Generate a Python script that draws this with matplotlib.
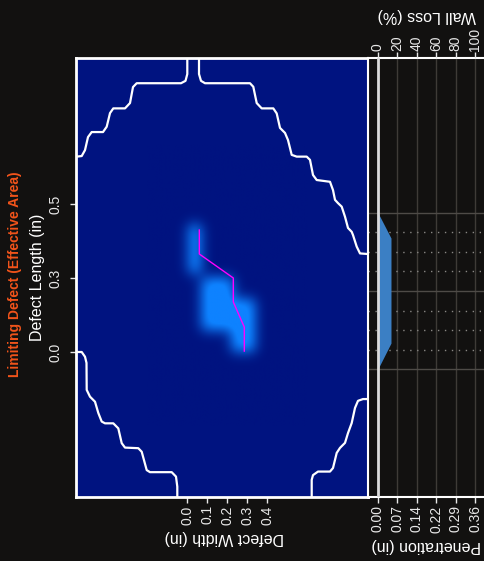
import matplotlib
matplotlib.use("Agg")
import matplotlib.pyplot as plt
import numpy as np
from matplotlib.colors import LinearSegmentedColormap

plt.rcParams["font.family"] = ["Liberation Sans", "DejaVu Sans"]

W, H = 485, 561
BG = "#121110"

# corroded patches (defect width / defect length, inches)
patch_w0 = [0.010, 0.072, 0.222]
patch_w1 = [0.070, 0.228, 0.335]
patch_l0 = [0.265, 0.075, 0.003]
patch_l1 = [0.430, 0.250, 0.180]
patch_depth = [1.0, 1.0, 1.0]

# limiting defect path
path_w = [0.06, 0.06, 0.23, 0.23, 0.285, 0.285]
path_l = [0.412, 0.331, 0.25, 0.169, 0.084, 0.003]

# acceptance envelope, left and right branches
left_w = [0.0, 0.0, -0.009, -0.0315, -0.253, -0.2715, -0.2865, -0.3115, -0.370,
          -0.3865, -0.403, -0.4215, -0.478, -0.4965, -0.5115, -0.528, -0.553,
          -0.64, -0.64, -0.528, -0.5115, -0.504, -0.503, -0.4865, -0.4615,
          -0.445, -0.428, -0.4115, -0.370, -0.345, -0.328, -0.3115, -0.245,
          -0.228, -0.203, -0.1865, -0.078, -0.0565, -0.050, -0.050]
left_l = [1.02, 0.939, 0.916, 0.908, 0.908, 0.895, 0.841, 0.823, 0.823,
          0.807, 0.761, 0.743, 0.743, 0.726, 0.682, 0.662, 0.660,
          0.659, 0.0, 0.0, -0.016, -0.037, -0.128, -0.151, -0.168,
          -0.206, -0.235, -0.241, -0.241, -0.258, -0.308, -0.323, -0.325,
          -0.337, -0.399, -0.406, -0.406, -0.421, -0.455, -0.52]
right_w = [0.0585, 0.0585, 0.0685, 0.0885, 0.3135, 0.330, 0.347, 0.372, 0.430,
           0.447, 0.4635, 0.4885, 0.5035, 0.522, 0.547, 0.597, 0.6135, 0.6285,
           0.647, 0.7135, 0.7285, 0.7385, 0.7535, 0.772, 0.7885, 0.8035, 0.822,
           0.8285, 0.847, 0.8635, 0.9035, 0.97, 0.97, 0.8785, 0.8535, 0.8385,
           0.822, 0.8035, 0.7885, 0.7635, 0.747, 0.7285, 0.7135, 0.6535,
           0.6285, 0.622, 0.622]
right_l = [1.02, 0.939, 0.916, 0.908, 0.908, 0.896, 0.841, 0.823, 0.823,
           0.806, 0.757, 0.740, 0.716, 0.666, 0.660, 0.660, 0.649, 0.598,
           0.581, 0.575, 0.547, 0.514, 0.503, 0.491, 0.457, 0.419, 0.406,
           0.395, 0.356, 0.333, 0.331, 0.331, -0.159, -0.159, -0.165, -0.189,
           -0.240, -0.274, -0.307, -0.324, -0.341, -0.392, -0.404, -0.404,
           -0.416, -0.432, -0.52]

# river-bottom profile
grid_len = [0.470, 0.404, 0.338, 0.272, 0.206, 0.140, 0.074, 0.008, -0.058]
grid_solid = [True, False, False, False, True, False, False, False, True]
profile_len = [0.470, 0.385, 0.030, -0.057]
profile_loss = [0, 13.4, 13.4, 0]

length_ticks = [0.0, 0.25, 0.5]
length_labels = ["0.0", "0.3", "0.5"]
width_ticks = [0.0, 0.1, 0.2, 0.3, 0.4]
width_labels = ["0.0", "0.1", "0.2", "0.3", "0.4"]
loss_ticks = [0, 20, 40, 60, 80, 100]
loss_labels = ["0", "20", "40", "60", "80", "100"]
pen_labels = ["0.00", "0.07", "0.14", "0.22", "0.29", "0.36"]


def fx(px):
    return px / W


def fy(py):
    return 1 - py / H


def blur(a, sigma, axis):
    r = int(3 * sigma)
    k = np.exp(-0.5 * (np.arange(-r, r + 1) / sigma) ** 2)
    k /= k.sum()
    return np.apply_along_axis(lambda v: np.convolve(v, k, mode="same"), axis, a)


fig = plt.figure(figsize=(W / 100, H / 100), dpi=100, facecolor=BG)

xlim = (-0.5565, 0.9035)
ylim = (-0.4899, 0.9932)
ax = fig.add_axes([fx(76), fy(497), fx(368) - fx(76), fy(58) - fy(497)])
cmap = LinearSegmentedColormap.from_list("depth", ["#001380", "#0E82FF"])
ax.set_facecolor(cmap(0.0))

# raster of the patches, softened
step = 0.004
gw = np.arange(-0.2, 0.6, step)
gl = np.arange(-0.25, 0.7, step)
img = np.zeros((len(gl), len(gw)))
for w0, w1, l0, l1, d in zip(patch_w0, patch_w1, patch_l0, patch_l1, patch_depth):
    mw = (gw + step / 2 >= w0) & (gw + step / 2 <= w1)
    ml = (gl + step / 2 >= l0) & (gl + step / 2 <= l1)
    img[np.ix_(ml, mw)] = np.maximum(img[np.ix_(ml, mw)], d)
img = blur(img, 0.032 / step, 1)
img = blur(img, 0.022 / step, 0)
ax.imshow(img, extent=(gw[0], gw[-1] + step, gl[0], gl[-1] + step), origin="lower",
          cmap=cmap, vmin=0, vmax=0.85, aspect="auto", interpolation="bilinear")

ax.plot(left_w, left_l, color="white", lw=1.6, solid_joinstyle="round")
ax.plot(right_w, right_l, color="white", lw=1.6, solid_joinstyle="round")
ax.plot(path_w, path_l, color="#FF00FF", lw=1.0)

ax.set_xlim(*xlim)
ax.set_ylim(*ylim)
ax.set_xticks(width_ticks)
ax.set_xticklabels(width_labels, rotation=90)
ax.set_yticks(length_ticks)
ax.set_yticklabels(length_labels, rotation=90, va="center")
ax.tick_params(axis="x", colors="#e8e8e8", length=4, width=1, labelsize=10, pad=2)
ax.tick_params(axis="y", colors="#e8e8e8", length=4.5, width=1, labelsize=10, pad=5)
for s in ax.spines.values():
    s.set_color("white")
    s.set_linewidth(2)

# penetration panel
ax2 = fig.add_axes([fx(368), fy(497), fx(485) - fx(368), fy(58) - fy(497)])
ax2.set_facecolor(BG)
lx = (-10.3, 110.3)
ax2.set_xlim(*lx)
ax2.set_ylim(*ylim)
for v in loss_ticks[1:]:
    ax2.axvline(v, color="#3e3b37", lw=1, zorder=1)
for yv, solid in zip(grid_len, grid_solid):
    if solid:
        ax2.axhline(yv, color="#4e4b47", lw=1, zorder=1)
    else:
        ax2.axhline(yv, color="#8a8885", lw=1, ls=(0, (1, 4)), zorder=1)
ax2.fill_betweenx(profile_len, 0, profile_loss, color="#3B7FC4", lw=0, zorder=2)
ax2.axvline(0, color="#dcdcdc", lw=2, zorder=3)
ax2.set_yticks([])
ax2.set_xticks(loss_ticks)
ax2.set_xticklabels(pen_labels, rotation=90)
ax2.tick_params(axis="x", colors="#e8e8e8", length=4, width=1, labelsize=10, pad=2)
for k, s in ax2.spines.items():
    s.set_color("white")
    s.set_linewidth(1.5)
ax2.spines["right"].set_visible(False)

ax3 = ax2.twiny()
ax3.set_xlim(*lx)
ax3.set_ylim(*ylim)
ax3.set_xticks(loss_ticks)
ax3.set_xticklabels(loss_labels, rotation=90)
ax3.tick_params(axis="x", colors="#e8e8e8", length=4, width=1, labelsize=10, pad=1)
for s in ax3.spines.values():
    s.set_visible(False)

# titles
fig.text(fx(15), fy(274), "Limiting Defect (Effective Area)", rotation=90,
         color="#F2541B", fontweight="bold", fontsize=10, ha="center", va="center")
fig.text(fx(38), fy(277), "Defect Length (in)", rotation=90, color="white",
         fontsize=11.5, ha="center", va="center")
fig.text(fx(224), fy(537.5), "Defect Width (in)", rotation=180, color="white",
         fontsize=11.5, ha="center", va="center")
fig.text(fx(427), fy(15), "Wall Loss (%)", rotation=180, color="white",
         fontsize=11.5, ha="center", va="center")
fig.text(fx(426), fy(546), "Penetration (in)", rotation=180, color="white",
         fontsize=11.5, ha="center", va="center")

fig.savefig("out.png", dpi=100, facecolor=BG)
